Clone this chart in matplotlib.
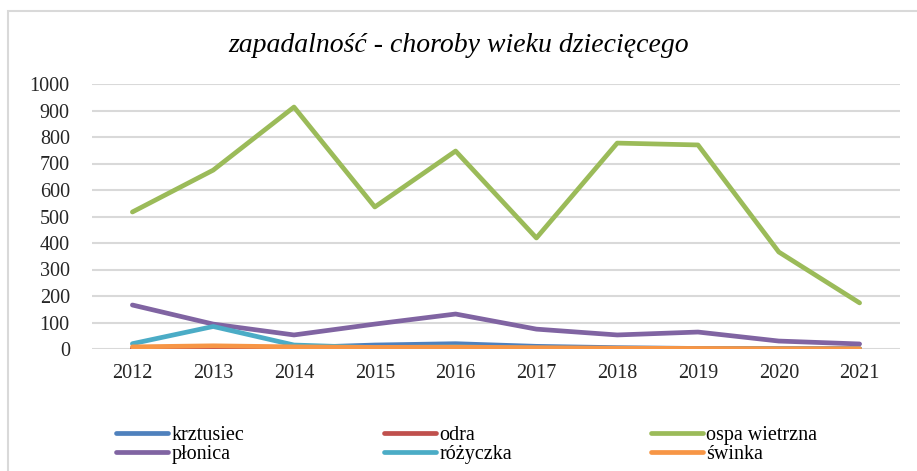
import matplotlib.pyplot as plt
from matplotlib.patches import Rectangle

years = ["2012", "2013", "2014", "2015", "2016", "2017", "2018", "2019", "2020", "2021"]
krztusiec = [2, 3, 5, 15, 20, 10, 5, 2, 1, 1]
odra = [1, 1, 1, 1, 1, 1, 1, 1, 0, 0]
ospa_wietrzna = [517, 675, 913, 536, 747, 419, 777, 770, 366, 174]
plonica = [166, 94, 53, 94, 132, 75, 53, 64, 30, 19]
rozyczka = [20, 85, 15, 5, 8, 3, 2, 1, 1, 1]
swinka = [8, 12, 8, 6, 7, 5, 3, 2, 1, 1]

names = ["krztusiec", "odra", "ospa wietrzna", "płonica", "różyczka", "świnka"]
series = [krztusiec, odra, ospa_wietrzna, plonica, rozyczka, swinka]
colors = ["#4F81BD", "#C0504D", "#9BBB59", "#8064A2", "#4BACC6", "#F79646"]

plt.rcParams['font.family'] = ['Liberation Serif', 'DejaVu Serif']

fig = plt.figure(figsize=(9.17, 4.71), dpi=100)
# light grey chart border (cut on right and bottom like the screenshot)
fig.patches.append(Rectangle((8 / 917, -0.1), 1.2, (471 - 11) / 471 + 0.1,
                             transform=fig.transFigure, fill=False,
                             edgecolor='#d9d9d9', linewidth=1.5))

ax = fig.add_axes([92 / 917, 122 / 471, 808 / 917, 265 / 471])
x = list(range(len(years)))
lines = []
for name, vals, c in zip(names, series, colors):
    ln, = ax.plot(x, vals, color=c, linewidth=3.4, solid_capstyle='round',
                  solid_joinstyle='round', label=name)
    lines.append(ln)

ax.set_xlim(-0.5, len(years) - 0.5)
ax.set_ylim(0, 1000)
ax.set_yticks(range(0, 1001, 100))
ax.set_xticks(x, years)
ax.tick_params(length=0, labelsize=14.5, colors='#262626', pad=11)
ax.tick_params(axis='y', pad=16)
ax.grid(axis='y', color='#d9d9d9', linewidth=1.5)
ax.set_axisbelow(True)
for s in ax.spines.values():
    s.set_visible(False)

fig.text(0.5, 1 - 46 / 471, "zapadalność - choroby wieku dziecięcego",
         ha='center', va='center', fontsize=20, style='italic')

# three legend columns at fixed positions
col_x = [106, 374, 641]
for i, cx in enumerate(col_x):
    leg = fig.legend([lines[i], lines[i + 3]], [names[i], names[i + 3]],
                     loc='upper left', bbox_to_anchor=(cx / 917, 1 - 416 / 471),
                     frameon=False, fontsize=14.5, handlelength=2.6,
                     handletextpad=0.15, labelspacing=0.0, borderpad=0)

fig.savefig("out.png", dpi=100)
